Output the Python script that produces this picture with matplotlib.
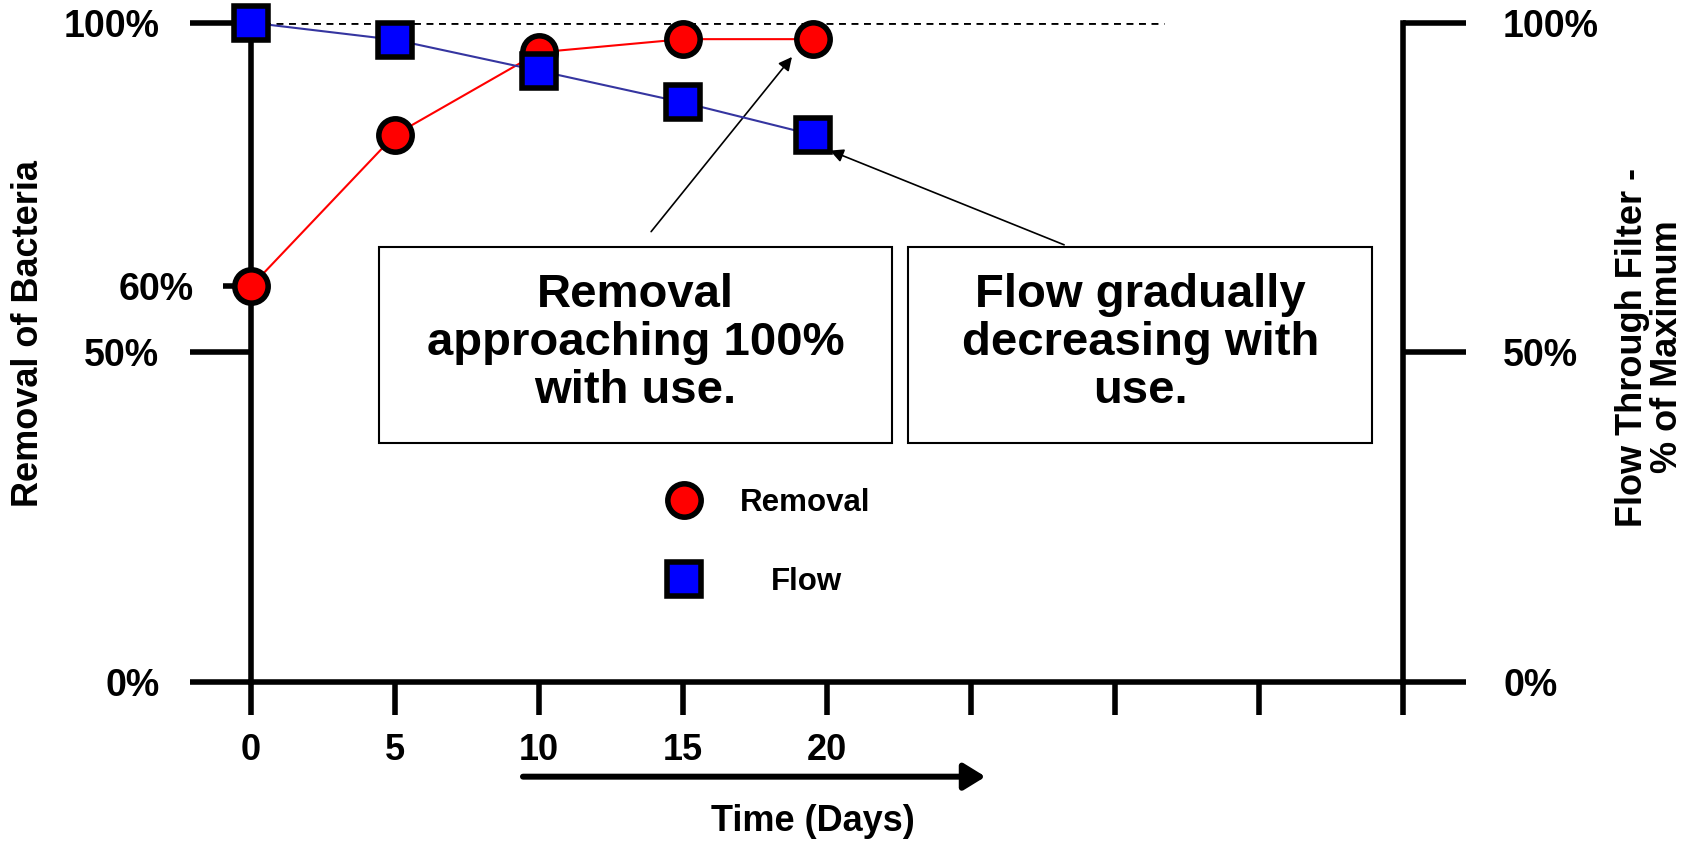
import matplotlib
matplotlib.use("Agg")
import matplotlib.pyplot as plt
from matplotlib.patches import Rectangle
from matplotlib.lines import Line2D

plt.rcParams['font.family'] = ['Liberation Sans', 'DejaVu Sans']
plt.rcParams['font.weight'] = 'bold'
plt.rcParams['axes.labelweight'] = 'bold'

# data
days = [0, 5, 10, 15, 19.5]
removal = [60, 83, 95.5, 97.5, 97.5]
flow = [100, 97.4, 92.7, 87.9, 83.0]

x_ticks = [0, 5, 10, 15, 20, 25, 30, 35, 40]
x_labels = ['0', '5', '10', '15', '20', '', '', '', '']
left_ticks = [0, 50, 100]
left_labels = ['0%', '50%', '100%']
left_minor = [60]
left_minor_labels = ['60%']
right_ticks = [0, 50, 100]
right_labels = ['0%', '50%', '100%']

box_texts = ['Removal\napproaching 100%\nwith use.',
             'Flow gradually\ndecreasing with\nuse.']

fig = plt.figure(figsize=(17.08, 8.46), dpi=100)
ax = fig.add_axes([0.1470, 0.1940, 0.6745, 0.7792])
ax2 = ax.twinx()
ax.set_xlim(0, 40)
ax.set_ylim(0, 100)
ax2.set_ylim(0, 100)

# reference line at 100%
ax.hlines(100, 0, 31.7, colors='black', linestyles=(0, (2.5, 2)), lw=2)

ax.plot(days, removal, color='red', lw=1.5, marker='o', ms=24, mfc='red',
        mec='black', mew=4, clip_on=False, zorder=5)
ax2.plot(days, flow, color='#3535a0', lw=1.5, marker='s', ms=24, mfc='#0000ff',
         mec='black', mew=4, clip_on=False, zorder=5)

# spines
for s in ['top', 'right']:
    ax.spines[s].set_visible(False)
for s in ['top', 'left', 'bottom']:
    ax2.spines[s].set_visible(False)
ax.spines['left'].set_linewidth(4)
ax.spines['bottom'].set_linewidth(4)
ax2.spines['right'].set_linewidth(4)

# ticks
ax.set_xticks(x_ticks, x_labels)
ax.tick_params(axis='x', direction='out', length=24, width=4, pad=13, labelsize=26)
ax.set_yticks(left_ticks, left_labels)
ax.set_yticks(left_minor, left_minor_labels, minor=True)
ax.tick_params(axis='y', which='major', direction='out', length=44, width=4, pad=22, labelsize=27)
ax.tick_params(axis='y', which='minor', direction='out', length=20, width=4, pad=21, labelsize=27)
ax2.set_yticks(right_ticks, right_labels)
ax2.tick_params(axis='y', direction='out', length=45, width=4, pad=27, labelsize=27)

# axis labels
ax.set_ylabel('Removal of Bacteria', fontsize=26, fontweight='bold', va='center')
ax.yaxis.set_label_coords(-0.1936, 0.528)
ax.set_xlabel('Time (Days)', fontsize=26, fontweight='bold', va='center')
ax.xaxis.set_label_coords(0.4878, -0.2125)
ax2.set_ylabel('Flow Through Filter -\n% of Maximum', fontsize=26, fontweight='bold',
               va='center', linespacing=1.0, multialignment='center')
ax2.yaxis.set_label_coords(1.2144, 0.508)

# arrow under the time axis
ax.annotate('', xy=(25.5, -0.1438), xytext=(9.44, -0.1438),
            xycoords=('data', 'axes fraction'), textcoords=('data', 'axes fraction'),
            arrowprops=dict(arrowstyle='-|>,head_length=0.65,head_width=0.4', lw=4.3,
                            color='black', mutation_scale=20, shrinkA=0, shrinkB=0),
            annotation_clip=False)

# note boxes
ax.add_patch(Rectangle((4.44, 36.2), 17.82, 29.8, fill=False, ec='black', lw=1.5, zorder=3))
ax.add_patch(Rectangle((22.81, 36.2), 16.11, 29.8, fill=False, ec='black', lw=1.5, zorder=3))
ax.text(13.35, 51.4, box_texts[0], ha='center', va='center', fontsize=34, linespacing=1.13)
ax.text(30.87, 51.4, box_texts[1], ha='center', va='center', fontsize=34, linespacing=1.13)

# pointer arrows
ax.annotate('', xy=(18.78, 94.8), xytext=(13.89, 68.3),
            arrowprops=dict(arrowstyle='-|>', color='black', lw=1.2, mutation_scale=20,
                            shrinkA=0, shrinkB=0))
ax.annotate('', xy=(20.1, 80.6), xytext=(28.23, 66.3),
            arrowprops=dict(arrowstyle='-|>', color='black', lw=1.2, mutation_scale=20,
                            shrinkA=0, shrinkB=0))

# legend
h1 = Line2D([], [], ls='none', marker='o', ms=24, mfc='red', mec='black', mew=4)
h2 = Line2D([], [], ls='none', marker='s', ms=24, mfc='#0000ff', mec='black', mew=4)
leg1 = ax.legend([h1], ['Removal'], loc='center left', bbox_to_anchor=(0.3892, 0.4054),
                 bbox_transform=fig.transFigure, frameon=False, fontsize=22.5,
                 handlelength=1.2, handletextpad=1.2, borderpad=0, borderaxespad=0)
ax.add_artist(leg1)
ax.legend([h2], ['Flow'], loc='center left', bbox_to_anchor=(0.3892, 0.3121),
          bbox_transform=fig.transFigure, frameon=False, fontsize=22.5,
          handlelength=1.2, handletextpad=2.2, borderpad=0, borderaxespad=0)

fig.savefig('out.png', dpi=100)
